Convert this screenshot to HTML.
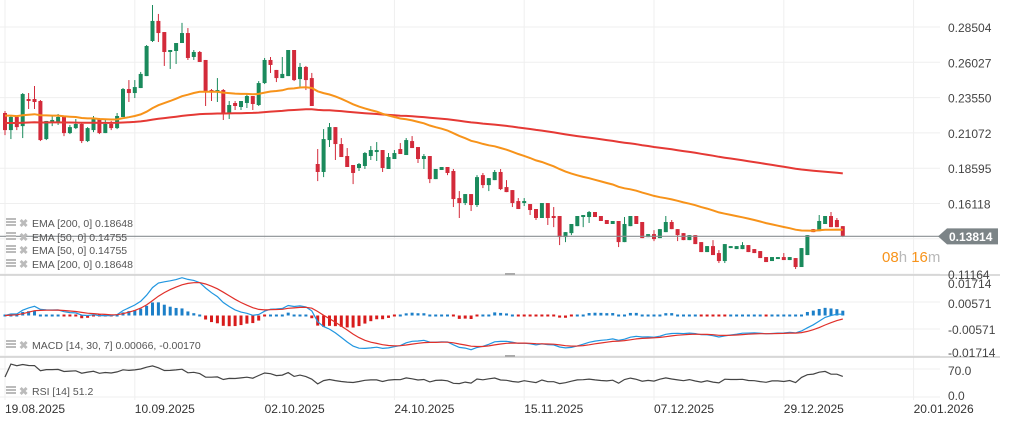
<!DOCTYPE html>
<html><head><meta charset="utf-8">
<style>
html,body{margin:0;padding:0;background:#fff;}
#wrap{position:relative;width:1009px;height:424px;overflow:hidden;font-family:"Liberation Sans",sans-serif;}
svg text{font-family:"Liberation Sans",sans-serif;}
</style></head>
<body>
<div id="wrap">
<svg id="chart" width="1009" height="424" viewBox="0 0 1009 424"></svg>
</div>
<script>
const dateLabels = ["19.08.2025","10.09.2025","02.10.2025","24.10.2025","15.11.2025","07.12.2025","29.12.2025","20.01.2026"];
const dateIndex = [0,22,44,66,88,110,132,154];
const priceTicks = [0.28504,0.26027,0.23550,0.21072,0.18595,0.16118,0.11164];
const macdTicks = [0.01714,0.00571,-0.00571,-0.01714];
const rsiTicks = [70,0];
const lastPrice = 0.13814;
const emaSeed = [0.2233,0.2177];
const opens = [.2247,.2127,.2219,.2155,.2345,.2345,.2331,.2064,.2184,.2184,.2219,.2106,.2141,.2170,.2050,.2127,.2205,.2106,.2170,.2141,.2219,.2415,.2387,.2422,.2506,.2752,.2893,.2815,.2675,.2682,.2738,.2808,.2640,.2675,.2619,.2408,.2394,.2408,.2240,.2317,.2289,.2317,.2366,.2303,.2457,.2619,.2549,.2492,.2506,.2689,.2485,.2570,.2492,.1889,.1833,.2057,.2148,.2029,.1945,.1882,.1861,.1875,.1945,.1973,.1987,.1854,.1924,.1994,.1952,.2050,.2008,.1924,.1945,.1783,.1847,.1868,.1840,.1650,.1615,.1678,.1601,.1811,.1741,.1776,.1833,.1727,.1706,.1629,.1615,.1608,.1573,.1510,.1615,.1524,.1524,.1376,.1404,.1453,.1517,.1517,.1552,.1524,.1496,.1468,.1489,.1341,.1453,.1524,.1482,.1376,.1397,.1369,.1411,.1482,.1432,.1404,.1355,.1390,.1341,.1271,.1313,.1264,.1208,.1299,.1292,.1292,.1320,.1292,.1278,.1236,.1208,.1222,.1236,.1215,.1229,.1166,.1250,.1432,.1418,.1468,.1524,.1496,.1453];
const highs = [.2261,.2226,.2226,.2387,.2387,.2436,.2338,.2191,.2226,.2240,.2226,.2163,.2205,.2177,.2148,.2226,.2212,.2198,.2191,.2247,.2422,.2478,.2478,.2535,.2724,.3005,.2942,.2815,.2689,.2738,.2879,.2843,.2689,.2682,.2619,.2415,.2492,.2415,.2331,.2331,.2331,.2380,.2366,.2471,.2633,.2640,.2549,.2640,.2689,.2689,.2598,.2577,.2528,.1994,.2134,.2177,.2148,.2071,.2001,.1882,.1896,.1973,.2015,.2043,.1987,.1966,.1987,.2036,.2071,.2085,.2008,.1959,.1945,.1854,.1868,.1868,.1854,.1699,.1678,.1678,.1811,.1826,.1790,.1847,.1854,.1776,.1706,.1650,.1650,.1608,.1573,.1615,.1615,.1587,.1524,.1411,.1468,.1524,.1531,.1559,.1552,.1524,.1496,.1489,.1489,.1517,.1524,.1524,.1482,.1397,.1425,.1432,.1524,.1496,.1432,.1404,.1390,.1390,.1341,.1313,.1355,.1285,.1327,.1313,.1313,.1341,.1320,.1292,.1278,.1236,.1236,.1236,.1264,.1236,.1229,.1299,.1390,.1432,.1531,.1524,.1552,.1510,.1453];
const lows = [.2092,.2064,.2127,.2071,.2275,.2275,.2050,.2057,.2155,.2163,.2085,.2099,.2134,.2036,.2043,.2113,.2099,.2106,.2127,.2134,.2219,.2324,.2352,.2422,.2506,.2745,.2745,.2577,.2556,.2591,.2738,.2619,.2619,.2605,.2296,.2331,.2324,.2198,.2205,.2268,.2268,.2282,.2268,.2296,.2450,.2528,.2464,.2492,.2506,.2471,.2429,.2408,.2296,.1769,.1797,.2008,.1917,.1938,.1868,.1748,.1840,.1854,.1917,.1910,.1833,.1854,.1924,.1959,.1952,.2001,.1896,.1854,.1755,.1783,.1847,.1811,.1587,.1510,.1601,.1559,.1587,.1720,.1699,.1776,.1706,.1692,.1587,.1573,.1594,.1531,.1496,.1510,.1461,.1446,.1320,.1341,.1390,.1453,.1446,.1475,.1517,.1489,.1468,.1468,.1306,.1341,.1453,.1468,.1369,.1376,.1348,.1369,.1411,.1432,.1348,.1355,.1355,.1327,.1271,.1271,.1250,.1194,.1194,.1299,.1292,.1292,.1271,.1264,.1229,.1201,.1208,.1222,.1215,.1215,.1152,.1166,.1250,.1411,.1418,.1468,.1446,.1446,.1376];
const closes = [.2127,.2219,.2148,.2380,.2331,.2324,.2057,.2191,.2198,.2219,.2106,.2148,.2170,.2050,.2141,.2205,.2106,.2170,.2141,.2226,.2415,.2387,.2429,.2521,.2717,.2893,.2808,.2675,.2689,.2738,.2808,.2633,.2675,.2605,.2401,.2394,.2408,.2240,.2303,.2296,.2331,.2366,.2310,.2457,.2619,.2584,.2492,.2521,.2689,.2478,.2570,.2478,.2296,.1833,.2064,.2148,.2029,.1938,.1868,.1826,.1889,.1966,.1987,.1987,.1861,.1938,.1966,.1959,.2057,.2001,.1924,.1945,.1783,.1854,.1868,.1826,.1643,.1615,.1678,.1601,.1797,.1741,.1790,.1833,.1713,.1692,.1615,.1573,.1629,.1566,.1510,.1615,.1510,.1510,.1376,.1411,.1468,.1524,.1531,.1552,.1517,.1489,.1468,.1489,.1341,.1468,.1524,.1468,.1369,.1397,.1362,.1432,.1482,.1432,.1390,.1355,.1390,.1327,.1271,.1313,.1250,.1208,.1327,.1313,.1313,.1320,.1271,.1264,.1229,.1201,.1236,.1236,.1215,.1236,.1166,.1299,.1390,.1411,.1489,.1524,.1446,.1446,.1381];

const svg = document.getElementById('chart');
const NS = 'http://www.w3.org/2000/svg';
function mk(tag, attrs, parent){const e=document.createElementNS(NS,tag);for(const k in attrs)e.setAttribute(k,attrs[k]);(parent||svg).appendChild(e);return e;}

// axes
const X0=5, DX=5.9;
function xAt(i){return X0+i*DX;}
function yPrice(v){return 27+(0.28504-v)*1425;}
function yMacd(v){return 315.5-v*2364;}
function yRsi(v){return 397-v*0.4;}

// grid
const grid = mk('g',{});


for(let k=0;k<8;k++){const y=yPrice(0.28504-k*0.024772);mk('line',{x1:0,x2:940,y1:y,y2:y,stroke:'#efefef','stroke-width':1},grid);}
macdTicks.forEach(v=>{const y=yMacd(v)-(v>0.01?0:0);mk('line',{x1:0,x2:940,y1:y,y2:y,stroke:'#efefef'},grid);});
rsiTicks.forEach(v=>{mk('line',{x1:0,x2:940,y1:yRsi(v),y2:yRsi(v),stroke:'#efefef'},grid);});
dateIndex.forEach(i=>{mk('line',{x1:xAt(i),x2:xAt(i),y1:0,y2:400,stroke:'#efefef'},grid);});

// panel separators
const sep1 = mk('line',{x1:0,x2:1000,y1:275,y2:275,stroke:'#cfcfcf','stroke-width':1.5});


const sep2 = mk('line',{x1:0,x2:1000,y1:357,y2:357,stroke:'#cfcfcf','stroke-width':1.5});


mk('rect',{x:505,y:273,width:10,height:2,fill:'#aaa'});
mk('rect',{x:505,y:355,width:10,height:2,fill:'#aaa'});

// EMA computation
function ema(arr, n, seed){const a=2/(n+1);let e=seed;return arr.map(v=>(e=e+a*(v-e)));}
const ema50 = ema(closes,50,emaSeed[0]);
const ema200 = ema(closes,200,emaSeed[1]);

// candles
const cg = mk('g',{});


closes.forEach((c,i)=>{
  const o=opens[i], up=c>=o, col=up?'#1a8a5c':'#d32a3a';
  const x=xAt(i);
  const g=mk('g',{},cg);
  
  
  mk('line',{x1:x,x2:x,y1:yPrice(highs[i]),y2:yPrice(lows[i]),stroke:col,'stroke-width':1},g);
  const yt=yPrice(Math.max(o,c)), yb=yPrice(Math.min(o,c));
  mk('rect',{x:x-2,y:yt,width:4,height:Math.max(1.5,yb-yt),fill:col},g);
});

function pathFrom(vals, yf){return vals.map((v,i)=>(i?'L':'M')+xAt(i).toFixed(1)+','+yf(v).toFixed(1)).join('');}
const e200 = mk('path',{d:pathFrom(ema200,yPrice),fill:'none',stroke:'#e53935','stroke-width':2});


const e50 = mk('path',{d:pathFrom(ema50,yPrice),fill:'none',stroke:'#f7931a','stroke-width':2});



// last price line
const pl = mk('line',{x1:0,x2:940,y1:yPrice(lastPrice),y2:yPrice(lastPrice),stroke:'#8a8f92','stroke-width':1.2});


const ly=yPrice(lastPrice);
const badge = mk('path',{d:`M938,${ly} L947,${ly-8} L998,${ly-8} L998,${ly+8} L947,${ly+8} Z`,fill:'#7c8487'});


const bt = mk('text',{x:949,y:ly+4.5,fill:'#fff','font-size':12,'font-weight':'bold'});
bt.textContent = lastPrice.toFixed(5);


const cd = mk('text',{x:882,y:262,'font-size':15});


cd.innerHTML='<tspan fill="#f7931a">08</tspan><tspan fill="#b8b8b8">h </tspan><tspan fill="#f7931a">16</tspan><tspan fill="#b8b8b8">m</tspan>';

// price axis labels
priceTicks.forEach(v=>{const t=mk('text',{x:948,y:yPrice(v)+5,fill:'#444','font-size':12});t.textContent=v.toFixed(5);

});

// MACD
const m14=ema(closes,14,closes[0]), m30=ema(closes,30,closes[0]);
const macd=m14.map((v,i)=>v-m30[i]);
const sig=ema(macd,7,macd[0]);
const hg=mk('g',{});


macd.forEach((m,i)=>{const h=m-sig[i];const y0=yMacd(0),y1=yMacd(h);let top=Math.min(y0,y1),ht=Math.abs(y1-y0);if(ht<2){ht=2;top=y0-1;}
const r=mk('rect',{x:xAt(i)-1.5,y:top,width:3,height:ht,fill:h>=0?'#1c7fc8':'#d81b1b'},hg);

});
const ml=mk('path',{d:pathFrom(macd,yMacd),fill:'none',stroke:'#2196e0','stroke-width':1.2});


const sl=mk('path',{d:pathFrom(sig,yMacd),fill:'none',stroke:'#e0302a','stroke-width':1.2});


macdTicks.forEach((v,k)=>{const yy=[283,303,329,352][k];const t=mk('text',{x:948,y:yy+5,fill:'#444','font-size':12});t.textContent=v.toFixed(5);

});

// RSI (Wilder)
const rsi=[];let ag=0,al=0;
closes.forEach((c,i)=>{if(i===0){rsi.push(50);return;}const d=c-closes[i-1];const g=Math.max(d,0),l=Math.max(-d,0);
if(i===1){ag=g||0.002;al=l||0.002;}else{ag=(ag*13+g)/14;al=(al*13+l)/14;}rsi.push(100-100/(1+ag/al));});
const rl=mk('path',{d:pathFrom(rsi,yRsi),fill:'none',stroke:'#444','stroke-width':1.2});


[[70,370],[0,395]].forEach(([v,yy])=>{const t=mk('text',{x:948,y:yy+5,fill:'#444','font-size':12});t.textContent=v.toFixed(1);

});

// dates
dateLabels.forEach((d,k)=>{const t=mk('text',{x:xAt(dateIndex[k]),y:413,fill:'#333','font-size':12});t.textContent=d;

});

// legends
function legend(y,text,name){
  const g=mk('g',{});
  
  
  mk('rect',{x:6,y:y-5,width:10,height:2,fill:'#bbb'},g);
  mk('rect',{x:6,y:y-2,width:10,height:2,fill:'#bbb'},g);
  mk('rect',{x:6,y:y+1,width:10,height:2,fill:'#bbb'},g);
  const x=mk('text',{x:19,y:y+4,fill:'#bbb','font-size':11,'font-weight':'bold'},g);x.textContent='✖';
  const t=mk('text',{x:32,y:y+4,fill:'#555','font-size':10.5},g);t.textContent=text;
}
legend(223,'EMA  [200,  0] 0.18648','legend-ema-200');
legend(237,'EMA  [50,  0] 0.14755','legend-ema-50');
legend(250,'EMA  [50,  0] 0.14755','legend-ema-50-b');
legend(264,'EMA  [200,  0] 0.18648','legend-ema-200-b');
legend(345,'MACD  [14, 30, 7] 0.00066,  -0.00170','legend-macd');
legend(391,'RSI  [14]  51.2','legend-rsi');
</script>
</body></html>
